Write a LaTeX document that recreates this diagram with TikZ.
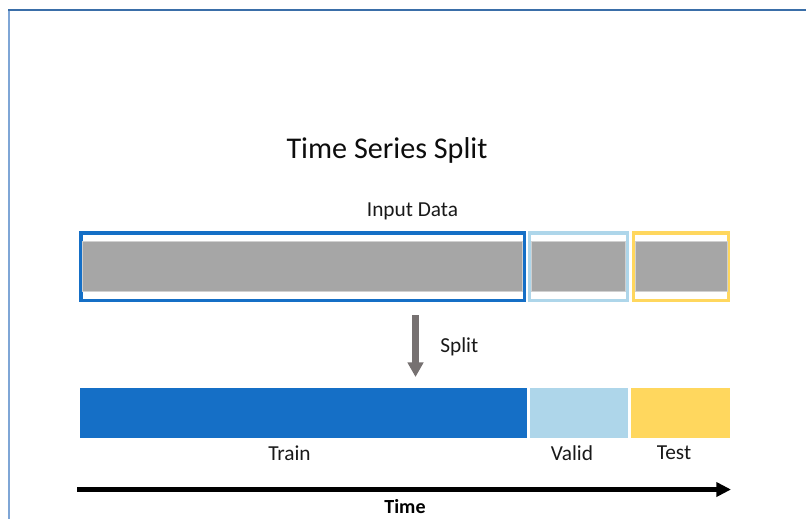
\documentclass[tikz,border=0pt]{standalone}
\usepackage{fontspec}
\setmainfont{Carlito}
\usetikzlibrary{arrows.meta}
\definecolor{tblue}{HTML}{156FC6}
\definecolor{tlblue}{HTML}{AED6EA}
\definecolor{tyellow}{HTML}{FFD75E}
\definecolor{tgray}{HTML}{A6A6A6}
\definecolor{tgrayedge}{HTML}{D0D0D0}
\definecolor{tarrow}{HTML}{767171}
\definecolor{framedark}{HTML}{3A6EA8}
\definecolor{framelight}{HTML}{7FA6D6}
\begin{document}
\begin{tikzpicture}[x=0.75pt,y=-0.75pt,
  outbox/.style={draw, line width=2.6pt, inner sep=0pt, fill=white},
  band/.style={draw=tgrayedge, line width=0.6pt, fill=tgray, inner sep=0pt, minimum height=37.5pt},
  bar/.style={inner sep=0pt, minimum height=37.5pt},
  lbl/.style={inner sep=0pt, font=\fontsize{16}{19}\selectfont, text=black!90}
]
\useasboundingbox (0,0) rectangle (806,519);
\fill[white] (0,0) rectangle (806,519);
% frame
\draw[framelight, line width=0.9pt] (9,10) -- (9,519);
\draw[framedark, line width=1.8pt] (8.4,10) -- (806,10);

% title
\node[inner sep=0pt, font=\fontsize{22.6}{27}\selectfont, text=black!95] (title) at (387,150) {Time Series Split};
\node[lbl] (input) at (412.5,211) {Input Data};

% top boxes
\node[outbox, draw=tblue, minimum width=332.6pt, minimum height=50.6pt] (trainbox) at (302.5,266.5) {};
\node[outbox, draw=tlblue, minimum width=73.5pt, minimum height=50.6pt] (validbox) at (578.5,266.5) {};
\node[outbox, draw=tyellow, minimum width=71.2pt, minimum height=50.6pt] (testbox) at (681,266.5) {};
\node[band, minimum width=330pt] (trainband) at (302.5,266) {};
\node[band, minimum width=71pt] (validband) at (578.5,266) {};
\node[band, minimum width=69pt] (testband) at (681,266) {};

% split arrow
\coordinate (splitfrom) at (415.5,315);
\coordinate (splitto) at (415.5,377);
\draw[tarrow, line width=4.6pt, -{Triangle[width=11.5pt,length=11pt]}] (splitfrom) -- (splitto);
\node[lbl, anchor=west] (split) at (440,347) {Split};

% bottom bars
\node[bar, fill=tblue, minimum width=335pt] (train) at (303.25,413) {};
\node[bar, fill=tlblue, minimum width=73.5pt] (valid) at (578.5,413) {};
\node[bar, fill=tyellow, minimum width=74.25pt] (test) at (680,413) {};

\node[lbl] (trainl) at (289.5,453) {Train};
\node[lbl] (validl) at (572,453) {Valid};
\node[lbl] (testl) at (674,453) {Test};

% time arrow
\coordinate (tstart) at (77,489.5);
\coordinate (tend) at (731,489.5);
\draw[black, line width=3.6pt, -{Triangle[width=10.5pt,length=11pt]}] (tstart) -- (tend);
\node[lbl, font=\fontsize{15}{18}\selectfont\bfseries, text=black] (time) at (405,507) {Time};
\end{tikzpicture}
\end{document}
